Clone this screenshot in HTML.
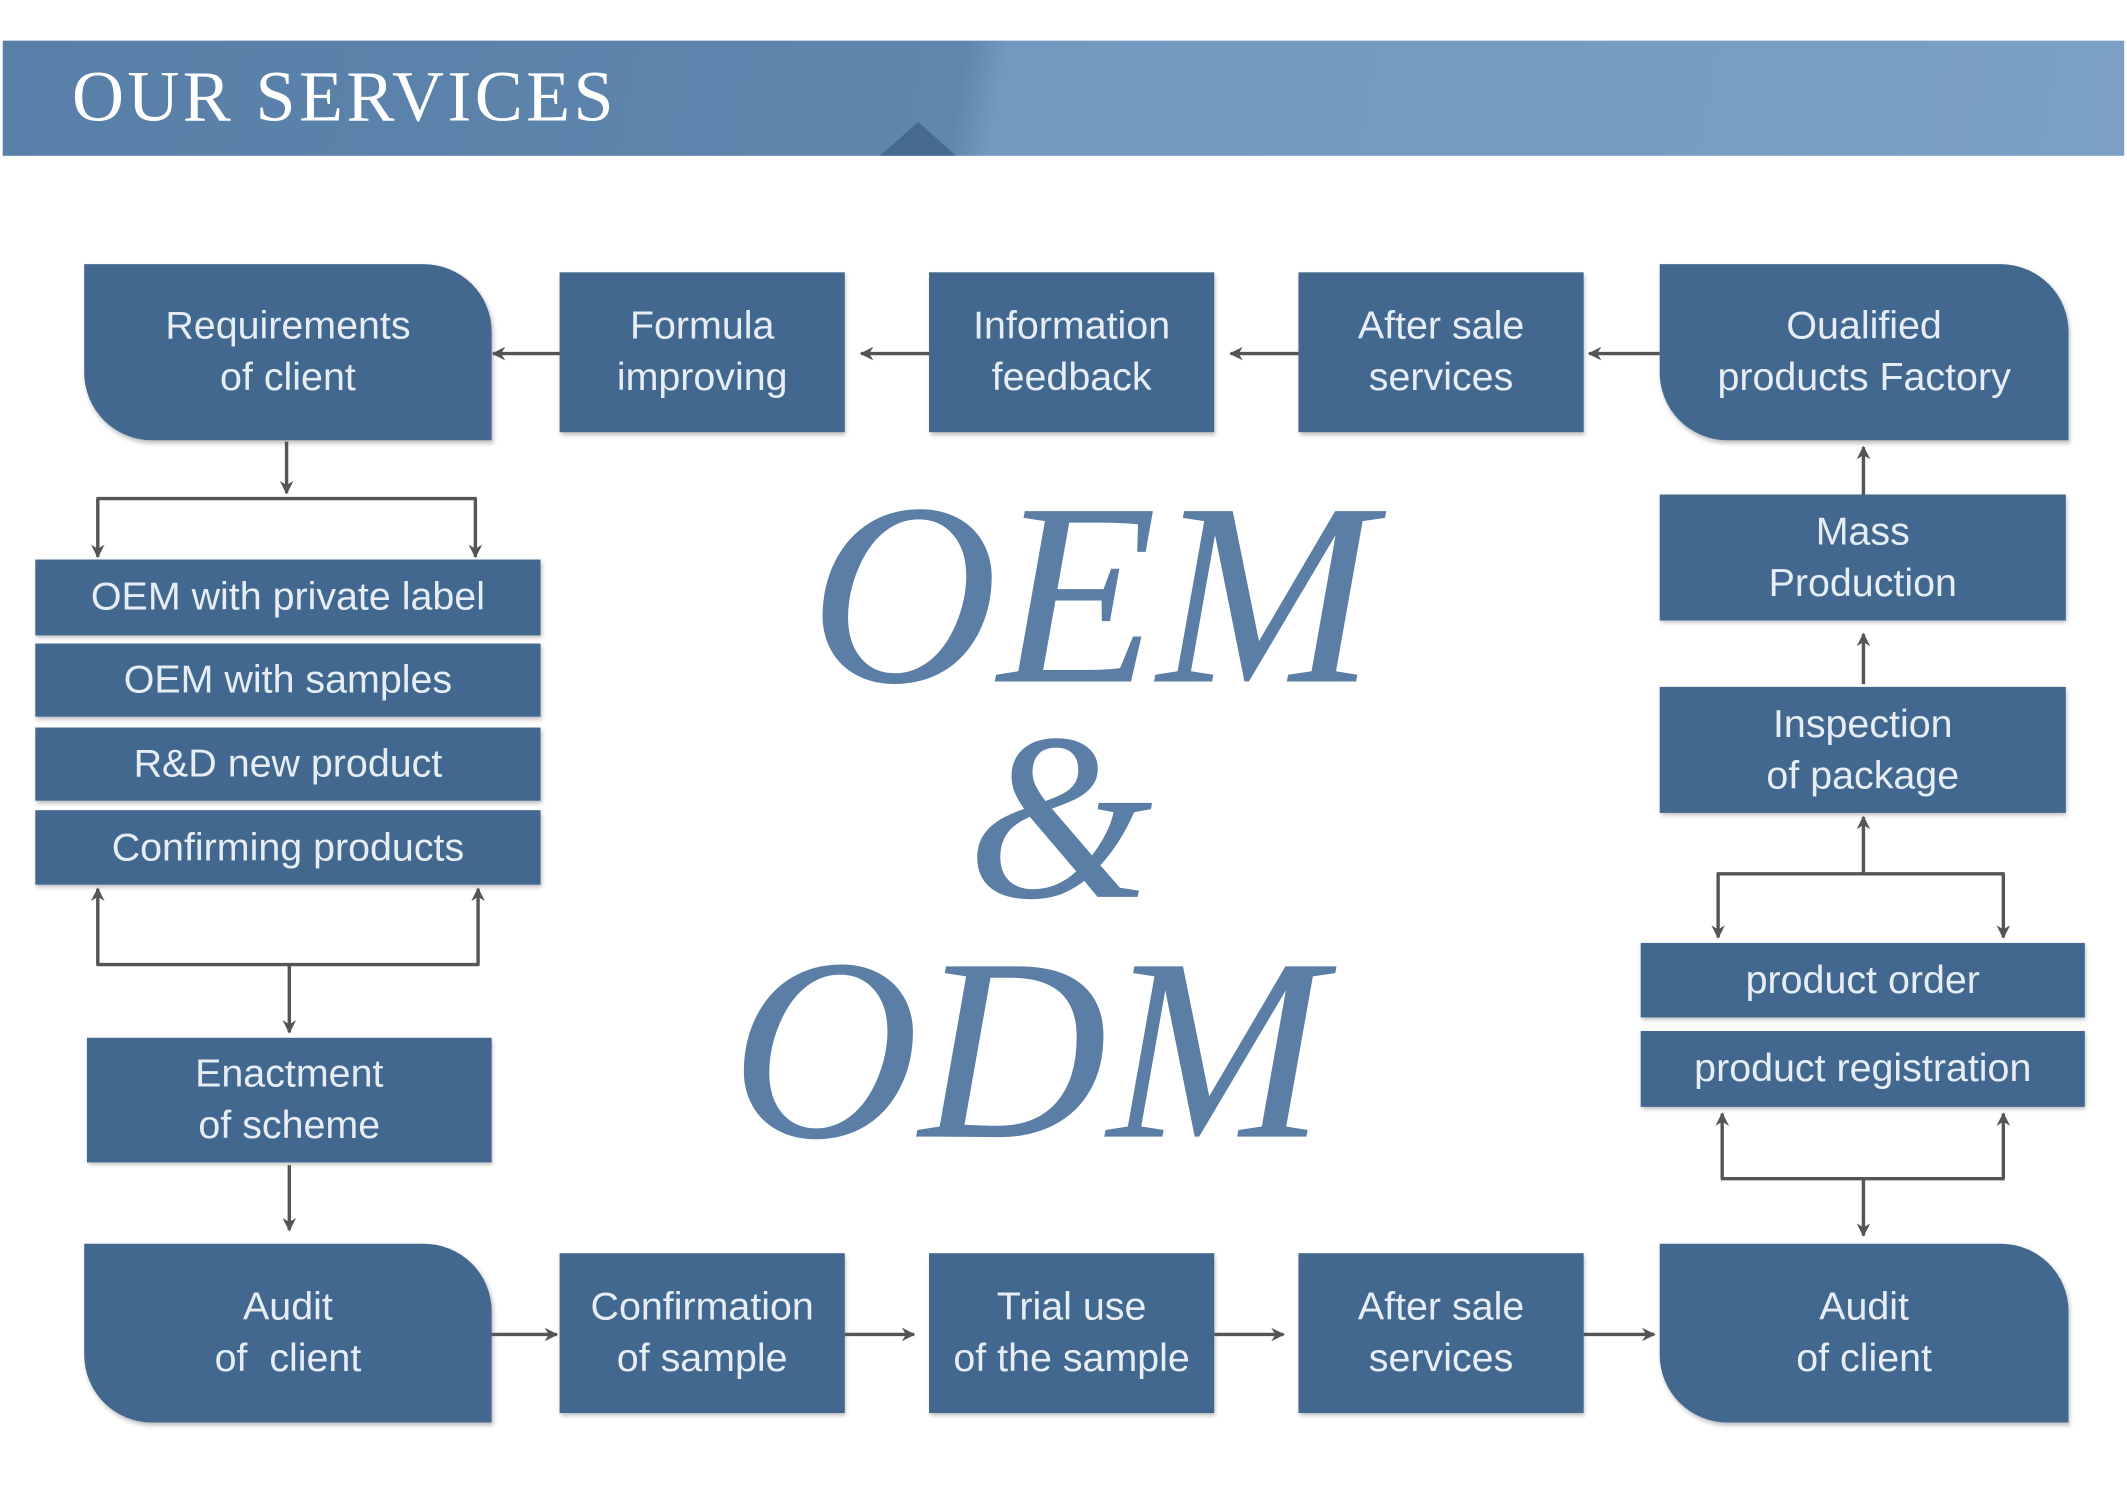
<!DOCTYPE html>
<html><head><meta charset="utf-8"><style>
html,body{margin:0;padding:0;background:#fff;width:2127px;height:1493px;overflow:hidden}
#w{position:absolute;left:0;top:0;width:1566px;height:1102px;transform-origin:0 0;transform:scale(1.3582,1.3548)}
.b{position:absolute;background:#42688f;color:#e6edf4;font-family:"Liberation Sans",sans-serif;font-size:29px;line-height:38px;display:flex;align-items:center;justify-content:center;text-align:center;box-shadow:1px 2px 3px rgba(0,0,0,.25)}
.r{border-radius:0 50px 0 50px}
.big{position:absolute;font-family:"Liberation Serif",serif;font-style:italic;font-weight:normal;color:#5a7ea6;line-height:1}
</style></head><body><div id="w">
<div style="position:absolute;left:2px;top:30px;width:1562px;height:85px;background:linear-gradient(100deg,#587fa7 0%,#5f86ad 45%,#7299bf 47%,#7ba0c4 100%)"></div>
<div style="position:absolute;left:648px;top:90px;width:0;height:0;border-left:28px solid transparent;border-right:28px solid transparent;border-bottom:25px solid #46698f"></div>
<div style="position:absolute;left:53px;top:42px;font-family:'Liberation Serif',serif;font-size:53px;color:#fff;letter-spacing:2.5px">OUR SERVICES</div>

<div class="b r" style="left:62px;top:195px;width:300px;height:130px">Requirements<br>of client</div>
<div class="b" style="left:412px;top:201px;width:210px;height:118px">Formula<br>improving</div>
<div class="b" style="left:684px;top:201px;width:210px;height:118px">Information<br>feedback</div>
<div class="b" style="left:956px;top:201px;width:210px;height:118px">After sale<br>services</div>
<div class="b r" style="left:1222px;top:195px;width:301px;height:130px">Oualified<br>products Factory</div>

<div class="b" style="left:26px;top:413px;width:372px;height:56px">OEM with private label</div>
<div class="b" style="left:26px;top:475px;width:372px;height:54px">OEM with samples</div>
<div class="b" style="left:26px;top:537px;width:372px;height:54px">R&amp;D new product</div>
<div class="b" style="left:26px;top:598px;width:372px;height:55px">Confirming products</div>
<div class="b" style="left:64px;top:766px;width:298px;height:92px">Enactment<br>of scheme</div>

<div class="b r" style="left:62px;top:918px;width:300px;height:132px">Audit<br>of&nbsp; client</div>
<div class="b" style="left:412px;top:925px;width:210px;height:118px">Confirmation<br>of sample</div>
<div class="b" style="left:684px;top:925px;width:210px;height:118px">Trial use<br>of the sample</div>
<div class="b" style="left:956px;top:925px;width:210px;height:118px">After sale<br>services</div>
<div class="b r" style="left:1222px;top:918px;width:301px;height:132px">Audit<br>of client</div>

<div class="b" style="left:1222px;top:365px;width:299px;height:93px">Mass<br>Production</div>
<div class="b" style="left:1222px;top:507px;width:299px;height:93px">Inspection<br>of package</div>
<div class="b" style="left:1208px;top:696px;width:327px;height:55px">product order</div>
<div class="b" style="left:1208px;top:761px;width:327px;height:56px">product registration</div>

<div class="big" style="left:596px;top:343px;font-size:192px">OEM</div>
<div class="big" style="left:712px;top:516px;font-size:176px">&amp;</div>
<div class="big" style="left:538px;top:679px;font-size:192px">ODM</div>

<svg style="position:absolute;left:0;top:0" width="1566" height="1102">
<defs><marker id="a" markerWidth="10" markerHeight="10" refX="9" refY="5" orient="auto" markerUnits="userSpaceOnUse"><path d="M0,0 L10,5 L0,10 L3,5z" fill="#555"/></marker></defs>
<g stroke="#555" stroke-width="2.5" fill="none" marker-end="url(#a)">
<line x1="412" y1="261" x2="363" y2="261"/>
<line x1="684" y1="261" x2="634" y2="261"/>
<line x1="956" y1="261" x2="906" y2="261"/>
<line x1="1222" y1="261" x2="1170" y2="261"/>
<line x1="211" y1="326" x2="211" y2="364"/>
<line x1="72" y1="368" x2="72" y2="411"/>
<line x1="350" y1="368" x2="350" y2="411"/>
<line x1="72" y1="712" x2="72" y2="656"/>
<line x1="352" y1="712" x2="352" y2="656"/>
<line x1="213" y1="712" x2="213" y2="762"/>
<line x1="213" y1="860" x2="213" y2="908"/>
<line x1="362" y1="985" x2="410" y2="985"/>
<line x1="622" y1="985" x2="673" y2="985"/>
<line x1="894" y1="985" x2="945" y2="985"/>
<line x1="1166" y1="985" x2="1218" y2="985"/>
<line x1="1372" y1="365" x2="1372" y2="330"/>
<line x1="1372" y1="505" x2="1372" y2="468"/>
<line x1="1372" y1="645" x2="1372" y2="603"/>
<line x1="1265" y1="645" x2="1265" y2="692"/>
<line x1="1475" y1="645" x2="1475" y2="692"/>
<line x1="1268" y1="870" x2="1268" y2="822"/>
<line x1="1475" y1="870" x2="1475" y2="822"/>
<line x1="1372" y1="870" x2="1372" y2="912"/>
</g>
<g stroke="#555" stroke-width="2.5" fill="none">
<line x1="71" y1="368" x2="351" y2="368"/>
<line x1="71" y1="712" x2="353" y2="712"/>
<line x1="1264" y1="645" x2="1476" y2="645"/>
<line x1="1267" y1="870" x2="1476" y2="870"/>
</g>
</svg>
</div></body></html>
